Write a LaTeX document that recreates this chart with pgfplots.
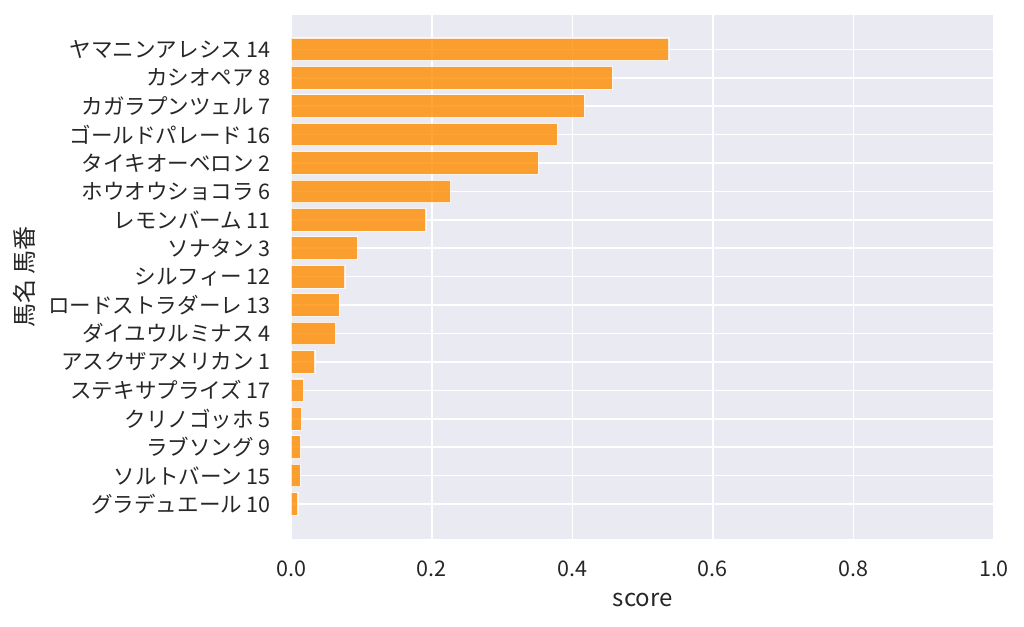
\documentclass[border=0pt]{standalone}
\usepackage{fontspec}
\setmainfont{Noto Sans CJK JP}
\usepackage{pgfplots}
\pgfplotsset{compat=1.18}
\definecolor{bg}{HTML}{EAEAF2}
\definecolor{txt}{HTML}{262626}
\definecolor{barc}{RGB}{255,140,0}
\begin{document}
\begin{tikzpicture}[font=\fontsize{16.15}{19}\selectfont, text=txt]
\path[use as bounding box] (-218.5pt,-66.2pt) rectangle (549.5pt,404pt);
\begin{axis}[
  at={(0pt,0pt)}, anchor=south west,
  scale only axis, width=527pt, height=393pt,
  xmin=0, xmax=1, ymin=-1.22, ymax=17.22, y dir=reverse,
  axis background/.style={fill=bg},
  axis line style={draw=none},
  grid=major, major grid style={white, line width=1.2pt},
  tick style={draw=none}, major tick length=0pt,
  xtick={0,0.2,0.4,0.6,0.8,1.0},
  xticklabel style={/pgf/number format/.cd, fixed, fixed zerofill, precision=1, assume math mode=true, /tikz/.cd, anchor=center, inner sep=0pt, yshift=-22.7pt},
  ytick={0,1,2,3,4,5,6,7,8,9,10,11,12,13,14,15,16},
  yticklabels={ヤマニンアレシス 14,カシオペア 8,カガラプンツェル 7,ゴールドパレード 16,タイキオーベロン 2,ホウオウショコラ 6,レモンバーム 11,ソナタン 3,シルフィー 12,ロードストラダーレ 13,ダイユウルミナス 4,アスクザアメリカン 1,ステキサプライズ 17,クリノゴッホ 5,ラブソング 9,ソルトバーン 15,グラデュエール 10},
  yticklabel style={anchor=east, inner sep=0pt, xshift=-15.2pt},
  xlabel={score},
  xlabel style={at={(axis description cs:0.5,-0.117)}, anchor=center, font=\fontsize{18}{21}\selectfont},
  ylabel={馬名 馬番},
  ylabel style={at={(axis description cs:-0.3797,0.5)}, anchor=center, font=\fontsize{18}{21}\selectfont},
]
\addplot[xbar, bar width=0.8, fill=barc, draw=white, line width=0.8pt, fill opacity=0.8, draw opacity=0.8] table {
x y
0.5375 0
0.4568 1
0.4170 2
0.3785 3
0.3515 4
0.2268 5
0.1917 6
0.0945 7
0.0764 8
0.0683 9
0.0632 10
0.0337 11
0.0176 12
0.0148 13
0.0134 14
0.0124 15
0.0095 16
};
\end{axis}
\end{tikzpicture}
\end{document}
